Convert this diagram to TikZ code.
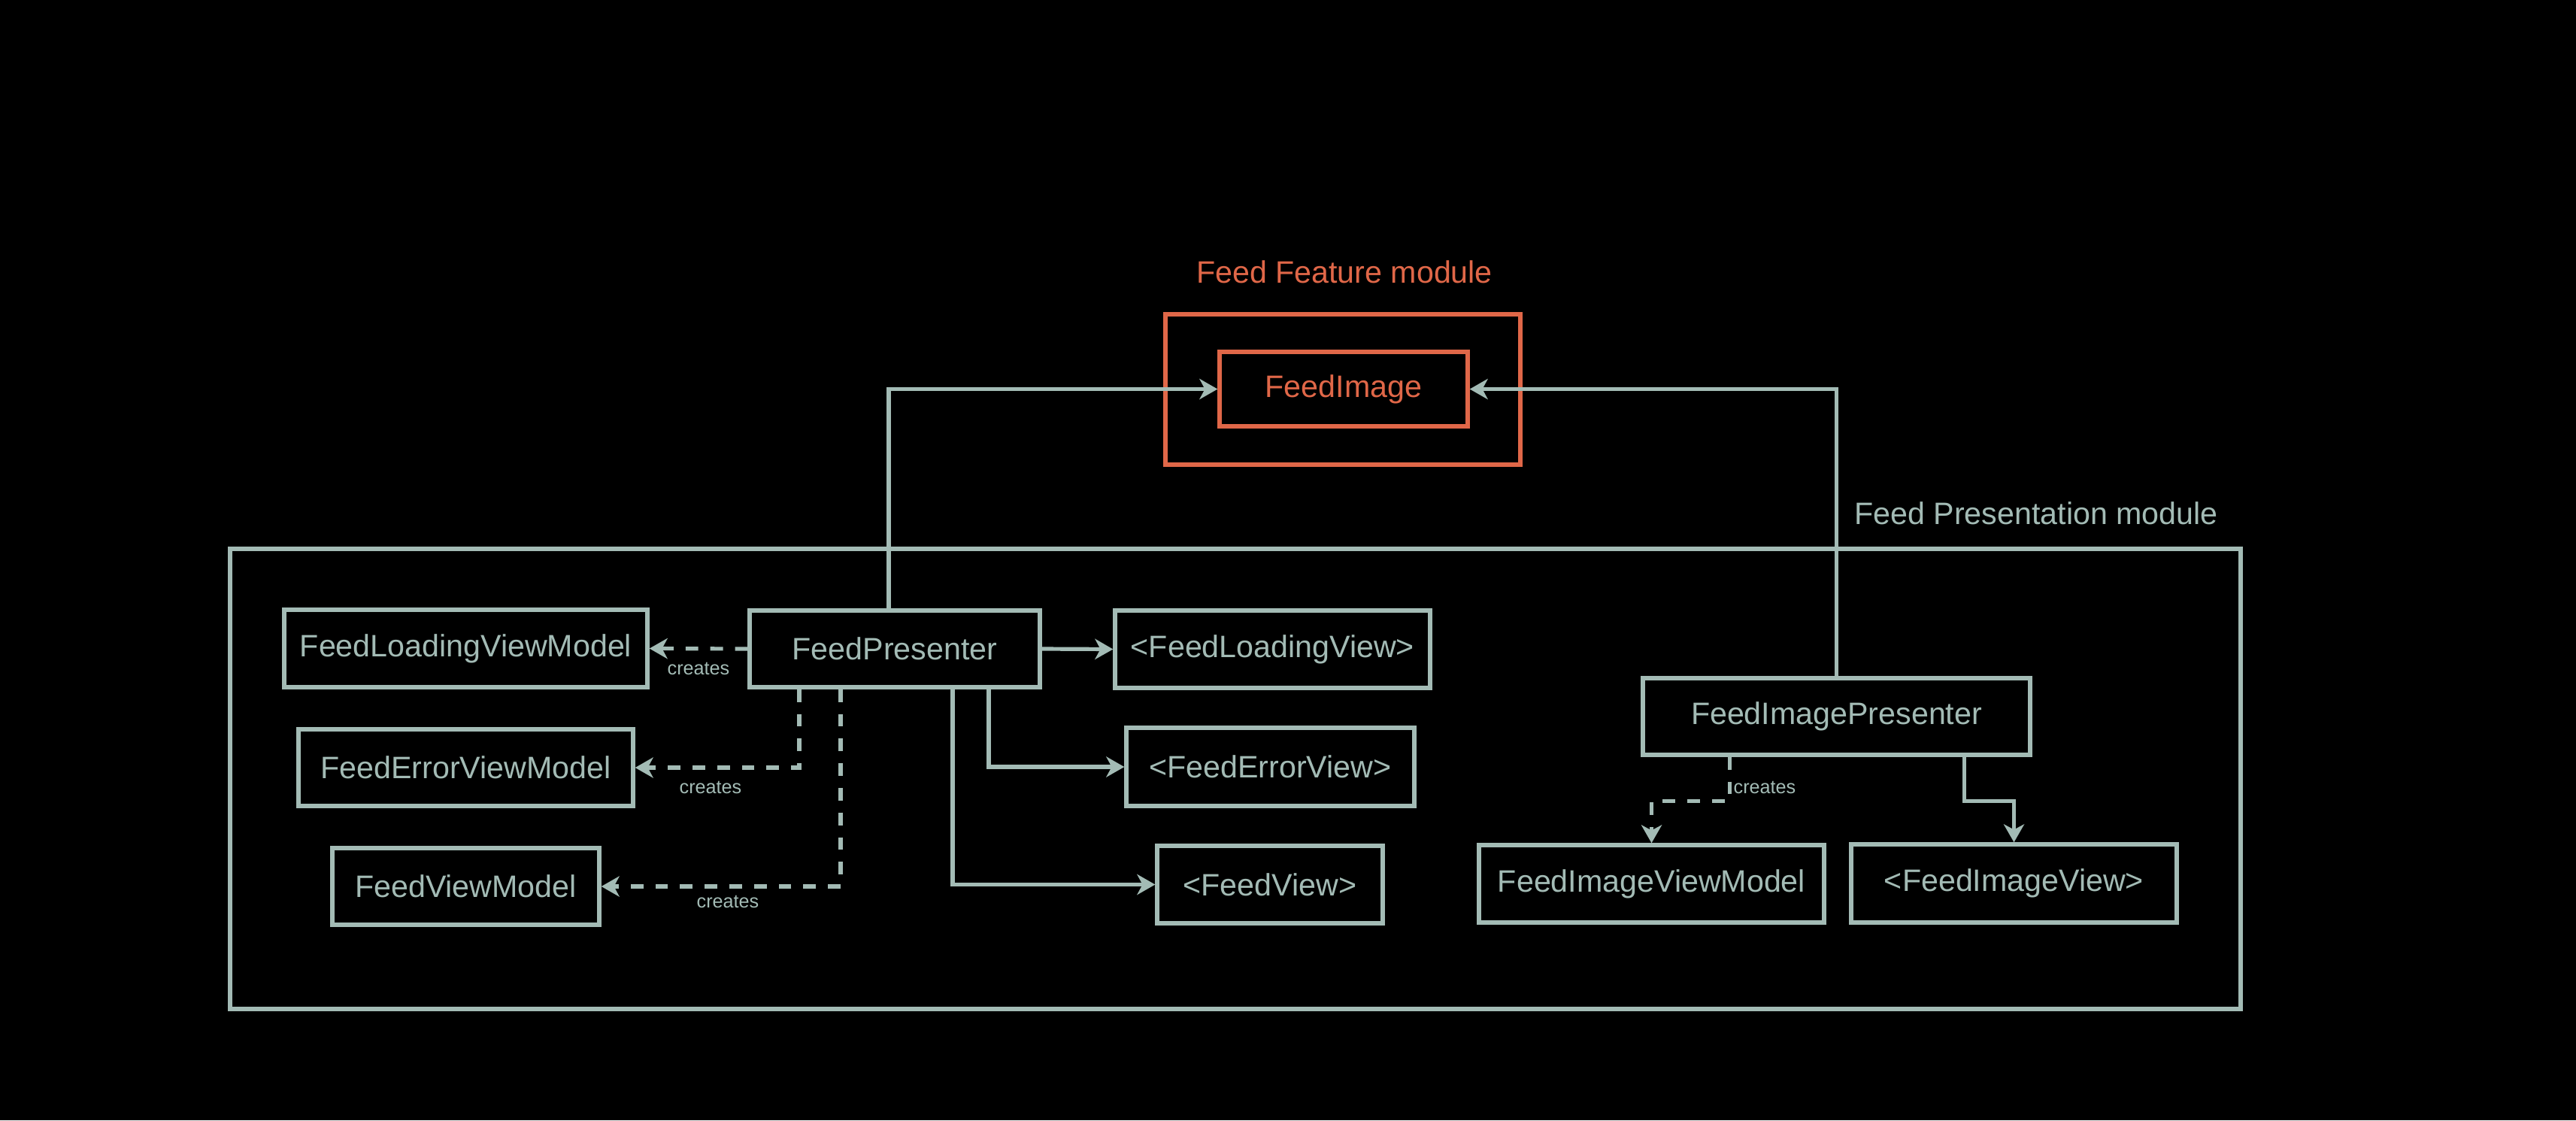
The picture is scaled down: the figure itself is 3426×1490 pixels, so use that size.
\documentclass[tikz,border=0pt]{standalone}
\usepackage{fontspec}
\setmainfont{Liberation Sans}
\usetikzlibrary{arrows.meta}
\definecolor{lc}{RGB}{163,187,181}
\definecolor{oc}{RGB}{224,103,72}
\begin{document}
\begin{tikzpicture}[x=0.25pt,y=-0.25pt,
  box/.style={draw=lc, line width=1.35pt, text=lc, font=\fontsize{10.3}{12}\selectfont, inner sep=0pt},
  obox/.style={box, draw=oc, text=oc},
  link/.style={draw=lc, line width=1.3pt, -{Stealth[length=6pt,width=6.8pt,inset=1.8pt]}},
  dep/.style={link, dash pattern=on 4.2pt off 4pt},
  lbl/.style={text=lc, font=\fontsize{6.3}{7}\selectfont, inner sep=0pt},
  ttl/.style={font=\fontsize{10.3}{12}\selectfont, inner sep=0pt}]
\fill[black] (0,0) rectangle (3426,1490);
\useasboundingbox (0,0) rectangle (3426,1490);

% modules
\node[ttl, text=oc] (featttl) at (1788,362) {Feed Feature module};
\node[obox, minimum width=118pt, minimum height=50pt] (feat) at (1786,518) {};
\node[obox, minimum width=82.5pt, minimum height=24.75pt] (fi) at (1787,517.5) {FeedImage};

\node[ttl, text=lc] (presttl) at (2708,683) {Feed Presentation module};
\node[box, minimum width=668.5pt, minimum height=153pt] (pres) at (1643,1036) {};

% left group
\node[box, minimum width=120.75pt, minimum height=25.75pt] (flvm) at (619.5,862.5) {FeedLoadingViewModel};
\node[box, minimum width=111.25pt, minimum height=25.5pt] (fevm) at (619.5,1021) {FeedErrorViewModel};
\node[box, minimum width=88.75pt, minimum height=25.5pt] (fvm) at (619.5,1179) {FeedViewModel};
\node[box, minimum width=96.5pt, minimum height=25.5pt] (fp) at (1190,863) {FeedPresenter};
\node[box, minimum width=104.75pt, minimum height=25.75pt] (flv) at (1692.5,863.5) {<FeedLoadingView>};
\node[box, minimum width=95.75pt, minimum height=26pt] (fev) at (1689.5,1020) {<FeedErrorView>};
\node[box, minimum width=75pt, minimum height=25.75pt] (fv) at (1689,1176.5) {<FeedView>};

% right group
\node[box, minimum width=128.75pt, minimum height=25.5pt] (fip) at (2442.5,953) {FeedImagePresenter};
\node[box, minimum width=114.75pt, minimum height=25.75pt] (fivm) at (2196.5,1175.5) {FeedImageViewModel};
\node[box, minimum width=108.25pt, minimum height=26pt] (fiv) at (2678.5,1175) {<FeedImageView>};

% connectors
\draw[link] ([xshift=-2pt]fp.north) |- (fi.west);
\draw[link] (fip.north) |- (fi.east);

\draw[dep] (fp.west) -- (flvm.east);
\draw[dep] ([xshift=-31.75pt]fp.south) |- (fevm.east);
\draw[dep] ([xshift=-18pt]fp.south) |- (fvm.east);
\draw[link] (fp.east) -- (flv.west);
\draw[link] ([xshift=31.25pt]fp.south) |- (fev.west);
\draw[link] ([xshift=19.25pt]fp.south) |- (fv.west);

\draw[dep] ([xshift=-35.6pt]fip.south) -- ++(0,59) -| (fivm.north);
\draw[link] ([xshift=42.4pt]fip.south) -- ++(0,59) -| (fiv.north);

% labels
\node[lbl] (c1) at (929,889) {creates};
\node[lbl] (c2) at (945,1047) {creates};
\node[lbl] (c3) at (968,1199) {creates};
\node[lbl] (c4) at (2347,1047) {creates};
\end{tikzpicture}
\end{document}
